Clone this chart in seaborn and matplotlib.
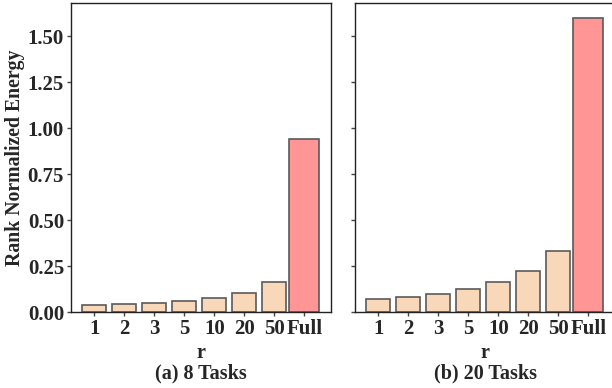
import matplotlib
matplotlib.use("Agg")
import matplotlib.pyplot as plt
import seaborn as sns
import pandas as pd
from matplotlib.ticker import FormatStrFormatter

sns.set_style("ticks")
plt.rcParams["font.family"] = ["Liberation Serif", "DejaVu Serif"]
plt.rcParams["font.weight"] = "bold"

ranks = ["1", "2", "3", "5", "10", "20", "50", "Full"]
energy_8_tasks = [0.036, 0.042, 0.047, 0.058, 0.076, 0.105, 0.161, 0.942]
energy_20_tasks = [0.069, 0.080, 0.096, 0.123, 0.161, 0.223, 0.330, 1.597]
panel_titles = ["(a) 8 Tasks", "(b) 20 Tasks"]

low_rank_color = "#F9D8BA"
full_color = "#FF9595"
edge_color = "#5a5a5a"

W, H = 612, 388
fig = plt.figure(figsize=(W / 100, H / 100), dpi=100)
ax1 = fig.add_axes([71 / W, 1 - 312 / H, 260 / W, 309 / H])
ax2 = fig.add_axes([355 / W, 1 - 312 / H, 260 / W, 309 / H], sharey=ax1)

for ax, values, title in zip([ax1, ax2], [energy_8_tasks, energy_20_tasks], panel_titles):
    df = pd.DataFrame({"r": ranks, "energy": values})
    low = df[df["r"] != "Full"]
    full = df[df["r"] == "Full"]
    sns.barplot(data=low, x="r", y="energy", order=ranks, color=low_rank_color,
                width=0.8, edgecolor=edge_color, linewidth=1.2, saturation=1, ax=ax)
    sns.barplot(data=full, x="r", y="energy", order=ranks, color=full_color,
                width=1.0, edgecolor=edge_color, linewidth=1.2, saturation=1, ax=ax)
    ax.set_xlim(-0.78, 7.89)
    ax.set_xlabel("r\n" + title, fontsize=14.5, fontweight="bold", linespacing=1.0, labelpad=3)
    ax.tick_params(axis="both", labelsize=15, length=3, width=1, pad=2, color="#444444")
    for lab in ax.get_xticklabels() + ax.get_yticklabels():
        lab.set_fontweight("bold")
    for sp in ax.spines.values():
        sp.set_linewidth(1.0)
        sp.set_color("#222222")

ax1.set_ylim(0, 1.68)
ax1.set_yticks([0, 0.25, 0.5, 0.75, 1.0, 1.25, 1.5])
ax1.yaxis.set_major_formatter(FormatStrFormatter("%.2f"))
ax1.set_ylabel("Rank Normalized Energy", fontsize=14.2, fontweight="bold")
ax1.yaxis.set_label_coords(-0.178, 0.5)
ax2.set_ylabel("")
plt.setp(ax2.get_yticklabels(), visible=False)

fig.savefig("out.png", dpi=100)
